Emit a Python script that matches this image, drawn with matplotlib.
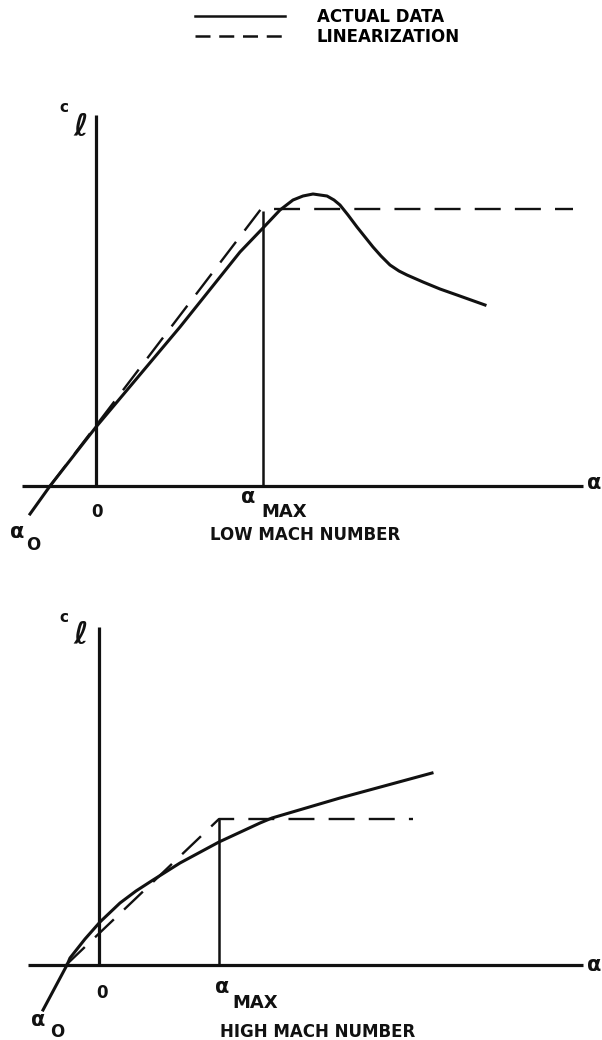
import matplotlib.pyplot as plt
from matplotlib.lines import Line2D

# angle of attack (deg) and lift coefficient
# low Mach number panel
low_alpha = [-6.6, -4.6, 0.0, 8.4, 14.4, 16.7, 18.4, 19.7, 20.7, 21.7, 23.1, 23.8,
             24.4, 25.2, 26.1, 26.9, 27.7, 28.5, 29.4, 30.3, 31.1, 32.7, 34.4, 36.1, 38.9]
low_cl = [-0.14, 0.0, 0.295, 0.795, 1.17, 1.29, 1.38, 1.43, 1.45, 1.46, 1.45, 1.43,
          1.405, 1.355, 1.295, 1.245, 1.195, 1.15, 1.105, 1.075, 1.055, 1.02, 0.985,
          0.955, 0.905]
low_lin_alpha = [-4.6, 16.5, 47.7]
low_lin_cl = [0.0, 1.385, 1.385]
low_alpha_max = 16.7
low_cl_max = 1.375

# high Mach number panel
high_alpha = [-5.6, -3.2, -2.9, -1.4, 0.1, 2.1, 3.7, 5.4, 8.1, 12.0, 16.1, 17.3,
              24.1, 33.3]
high_cl = [-0.225, 0.0, 0.035, 0.13, 0.215, 0.31, 0.37, 0.425, 0.51, 0.615, 0.71,
           0.735, 0.835, 0.96]
high_lin_alpha = [-3.3, 12.0, 31.4]
high_lin_cl = [0.0, 0.73, 0.73]
high_alpha_max = 12.0
high_cl_max = 0.73

BLACK = '#111111'
LBL = dict(fontfamily='DejaVu Sans', fontweight='bold', color=BLACK,
           ha='center', va='center')

fig = plt.figure(figsize=(6.02, 10.4), dpi=100)
# both panels span the whole width; 10 px per degree, 200 px per unit cl
ax1 = fig.add_axes([0, (1040 - 560) / 1040, 1, 500 / 1040])
ax2 = fig.add_axes([0, 0, 1, 460 / 1040])
ax1.set_xlim(-9.6, 50.6)
ax1.set_ylim(-0.37, 2.13)
ax2.set_xlim(-9.9, 50.3)
ax2.set_ylim(-0.375, 1.925)


def panel(ax, a, cl, la, lcl, amax, clmax, x_ext, y_top):
    ax.plot(x_ext, [0, 0], color=BLACK, lw=2.3, solid_capstyle='butt')
    ax.plot([0, 0], [0, y_top], color=BLACK, lw=2.3, solid_capstyle='butt')
    ax.plot([amax, amax], [0, clmax], color=BLACK, lw=1.8, solid_capstyle='butt')
    s, = ax.plot(a, cl, color=BLACK, lw=2.2, solid_joinstyle='round')
    d, = ax.plot(la, lcl, color=BLACK, lw=1.7, linestyle=(0, (11, 6)))
    ax.axis('off')
    return s, d


panel(ax1, low_alpha, low_cl, low_lin_alpha, low_lin_cl,
      low_alpha_max, low_cl_max, [-7.4, 48.7], 1.855)
panel(ax2, high_alpha, high_cl, high_lin_alpha, high_lin_cl,
      high_alpha_max, high_cl_max, [-7.1, 48.4], 1.69)

# labels, top panel
ax1.text(0.1, -0.13, '0', fontsize=12, **LBL)
ax1.text(15.2, -0.055, 'α', fontsize=15, **LBL)
ax1.text(18.8, -0.13, 'MAX', fontsize=13, **LBL)
ax1.text(-7.9, -0.23, 'α', fontsize=15, **LBL)
ax1.text(-6.3, -0.295, 'O', fontsize=12, **LBL)
ax1.text(20.9, -0.245, 'LOW MACH NUMBER', fontsize=12, **LBL)
ax1.text(49.8, 0.015, 'α', fontsize=15, **LBL)
ax1.text(-3.2, 1.89, 'c', fontsize=11, **LBL)
ax1.text(-1.5, 1.79, 'ℓ', fontsize=22, fontstyle='italic', **LBL)

# labels, bottom panel
ax2.text(0.3, -0.14, '0', fontsize=12, **LBL)
ax2.text(12.3, -0.11, 'α', fontsize=15, **LBL)
ax2.text(15.6, -0.19, 'MAX', fontsize=13, **LBL)
ax2.text(-6.1, -0.275, 'α', fontsize=15, **LBL)
ax2.text(-4.2, -0.335, 'O', fontsize=12, **LBL)
ax2.text(21.9, -0.335, 'HIGH MACH NUMBER', fontsize=12, **LBL)
ax2.text(49.5, 0.0, 'α', fontsize=15, **LBL)
ax2.text(-3.5, 1.735, 'c', fontsize=11, **LBL)
ax2.text(-1.8, 1.645, 'ℓ', fontsize=22, fontstyle='italic', **LBL)

# legend
handles = [Line2D([], [], color=BLACK, lw=1.8),
           Line2D([], [], color=BLACK, lw=1.8, linestyle=(0, (6, 3.5)))]
fig.legend(handles, ['ACTUAL DATA', 'LINEARIZATION'], loc='upper left',
           bbox_to_anchor=(195 / 602, 1 - 8 / 1040), frameon=False,
           prop=dict(family='DejaVu Sans', weight='bold', size=12),
           handlelength=5.4, handletextpad=1.9, labelspacing=0.1,
           borderpad=0, borderaxespad=0)

fig.savefig('out.png', dpi=100, facecolor='white')
